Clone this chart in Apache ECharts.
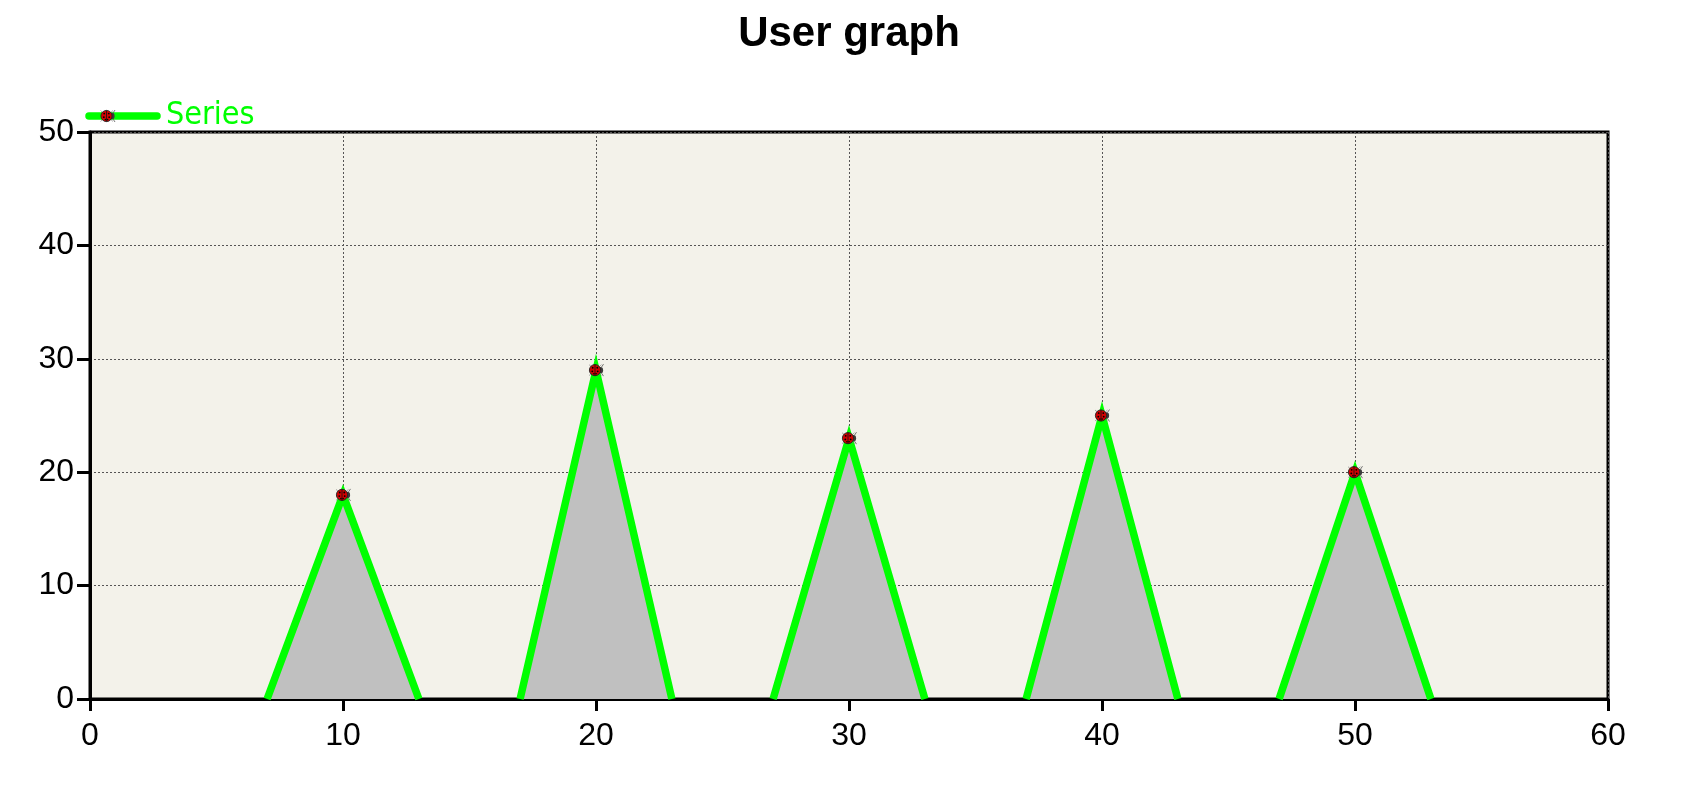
<!DOCTYPE html>
<html>
<head>
<meta charset="utf-8">
<script src="https://cdn.jsdelivr.net/npm/echarts@6/dist/echarts.min.js"></script>
<style>
html,body{margin:0;padding:0;background:#fff;}
#chart{width:1698px;height:789px;}
</style>
</head>
<body>
<div id="chart"></div>
<script>
// Data: triangles, null separates segments
const xValues = [7, 10, 13, null, 17, 20, 23, null, 27, 30, 33, null, 37, 40, 43, null, 47, 50, 53];
const yValues = [0, 18, 0, null, 0, 29, 0, null, 0, 23, 0, null, 0, 25, 0, null, 0, 20, 0];
const xTicks = [0, 10, 20, 30, 40, 50, 60];
const yTicks = [0, 10, 20, 30, 40, 50];
const seriesName = 'Series';
const titleText = 'User graph';

const bugSvg = function (cx, cy) {
  return "<g transform='translate(" + cx + "," + cy + ")'>" +
    "<ellipse cx='5' cy='0' rx='2.6' ry='3.2' fill='#3a3a3a'/>" +
    "<line x1='6' y1='-3' x2='8' y2='-6' stroke='#555' stroke-width='0.8'/>" +
    "<line x1='6' y1='3' x2='8' y2='6' stroke='#555' stroke-width='0.8'/>" +
    "<line x1='-6.5' y1='-5.5' x2='6' y2='5.5' stroke='#777' stroke-width='0.6'/>" +
    "<line x1='-6.5' y1='5.5' x2='6' y2='-5.5' stroke='#777' stroke-width='0.6'/>" +
    "<circle cx='-0.5' cy='0' r='5.6' fill='#d40000' stroke='#222' stroke-width='0.9'/>" +
    "<line x1='-0.5' y1='-5.6' x2='-0.5' y2='5.6' stroke='#111' stroke-width='0.8'/>" +
    "<circle cx='-2.8' cy='-2.4' r='0.9' fill='#000'/>" +
    "<circle cx='1.8' cy='-2.4' r='0.9' fill='#000'/>" +
    "<circle cx='-3.2' cy='1.2' r='0.9' fill='#000'/>" +
    "<circle cx='2.2' cy='1.2' r='0.9' fill='#000'/>" +
    "<circle cx='-1.6' cy='3.6' r='0.8' fill='#000'/>" +
    "<circle cx='0.6' cy='3.6' r='0.8' fill='#000'/>" +
    "</g>";
};
const bugIcon = 'image://data:image/svg+xml;charset=utf-8,' + encodeURIComponent(
  "<svg xmlns='http://www.w3.org/2000/svg' width='17' height='16' viewBox='0 0 17 16'>" +
  bugSvg(8, 8) + "</svg>");
const legendIcon = 'image://data:image/svg+xml;charset=utf-8,' + encodeURIComponent(
  "<svg xmlns='http://www.w3.org/2000/svg' width='76' height='16' viewBox='0 0 76 16'>" +
  "<line x1='4' y1='8' x2='72' y2='8' stroke='#00ff00' stroke-width='7.5' stroke-linecap='round'/>" +
  bugSvg(22, 8) + "</svg>");

const data = xValues.map(function (x, i) {
  if (x === null) return '-';
  const y = yValues[i];
  return y > 0 ? { value: [x, y] } : { value: [x, y], symbol: 'none' };
});

const labelFont = 'Liberation Sans, Arial, sans-serif';
const chart = echarts.init(document.getElementById('chart'), null, { renderer: 'canvas' });
chart.setOption({
  animation: false,
  backgroundColor: '#ffffff',
  title: {
    text: titleText,
    left: 'center',
    top: 8,
    textStyle: { fontFamily: labelFont, fontWeight: 'bold', fontSize: 42, color: '#000' }
  },
  legend: {
    left: 85,
    top: 100,
    itemWidth: 76,
    itemHeight: 16,
    itemGap: 3,
    data: [{ name: seriesName, icon: legendIcon }],
    textStyle: { fontFamily: "'DejaVu Sans Condensed', 'Noto Sans', sans-serif", fontSize: 32, color: '#00ff00', padding: [5, 0, 0, 0] },
    padding: 0
  },
  grid: {
    left: 90, right: 90, top: 132, bottom: 90,
    show: true,
    backgroundColor: '#f3f2ea',
    borderColor: '#000',
    borderWidth: 3
  },
  xAxis: {
    type: 'value',
    min: xTicks[0],
    max: xTicks[xTicks.length - 1],
    interval: 10,
    axisLine: { show: true, onZero: false, lineStyle: { color: '#000', width: 3 } },
    axisTick: { show: true, inside: false, length: 12, lineStyle: { color: '#000', width: 3 } },
    axisLabel: { margin: 21, fontFamily: labelFont, fontSize: 32, color: '#000' },
    splitLine: { show: true, lineStyle: { color: '#555', width: 1, type: [2, 2] } }
  },
  yAxis: {
    type: 'value',
    min: yTicks[0],
    max: yTicks[yTicks.length - 1],
    interval: 10,
    axisLine: { show: true, onZero: false, lineStyle: { color: '#000', width: 3 } },
    axisTick: { show: true, inside: false, length: 13, lineStyle: { color: '#000', width: 3 } },
    axisLabel: { margin: 16, fontFamily: labelFont, fontSize: 32, color: '#000' },
    splitLine: { show: true, lineStyle: { color: '#555', width: 1, type: [2, 2] } }
  },
  series: [{
    name: seriesName,
    type: 'line',
    data: data,
    symbol: bugIcon,
    symbolSize: [17, 16],
    connectNulls: false,
    showSymbol: true,
    lineStyle: { color: '#00ff00', width: 7.5, join: 'miter' },
    itemStyle: { color: '#00ff00' },
    areaStyle: { color: '#c0c0c0', opacity: 1, origin: 'start' },
    z: 3
  }]
});
</script>
</body>
</html>
